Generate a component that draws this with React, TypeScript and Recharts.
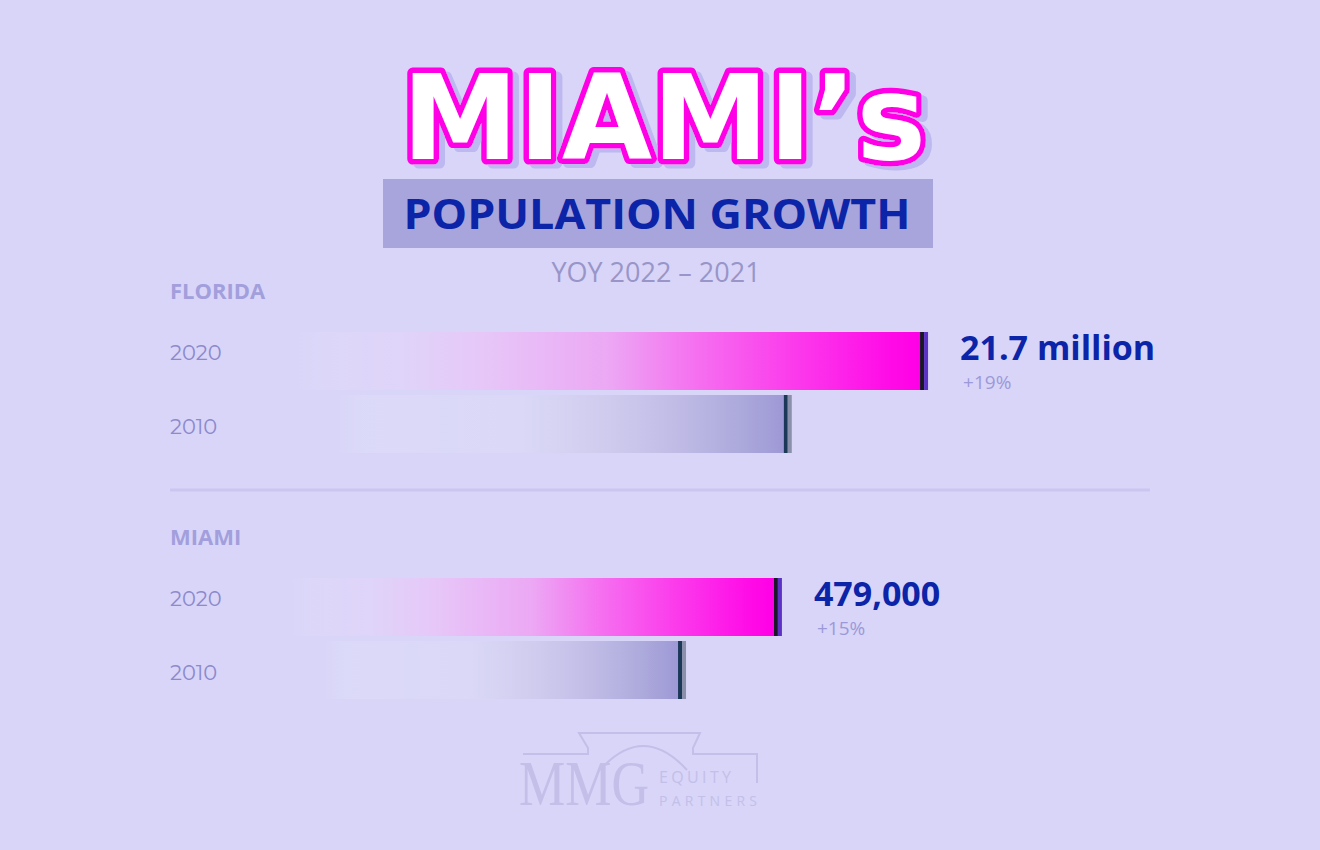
import React from 'react'
import { Bar, BarChart, LabelList, XAxis, YAxis } from 'recharts'

// Florida: population in millions
const floridaYears = ['2020', '2010']
const floridaValues = [21.7, 18.2]
const floridaLabels = ['21.7 million', '']
const floridaChange = ['+19%', '']

// Miami: population (people)
const miamiYears = ['2020', '2010']
const miamiValues = [479000, 417000]
const miamiLabels = ['479,000', '']
const miamiChange = ['+15%', '']

const floridaDomain: [number, number] = [4.8, 27.4]
const miamiDomain: [number, number] = [148000, 717000]

const BG = '#d8d5f8'
const NAVY = '#0b24a8'

type Row = { year: string; value: number; label: string; change: string }

const buildRows = (years: string[], values: number[], labels: string[], change: string[]): Row[] =>
  years.map((year, i) => ({ year, value: values[i], label: labels[i], change: change[i] }))

const floridaRows = buildRows(floridaYears, floridaValues, floridaLabels, floridaChange)
const miamiRows = buildRows(miamiYears, miamiValues, miamiLabels, miamiChange)

function CappedBar(props: any) {
  const { x, y, width, height, index, prefix } = props
  const cap = 4
  const body = Math.max(width - cap * 2, 0)
  const current = index === 0
  const id = `${prefix}-grad-${index}`
  return (
    <g>
      <defs>
        {current ? (
          <linearGradient id={id} x1="0" y1="0" x2="1" y2="0">
            <stop offset="0" stopColor="#ddd8fa" stopOpacity={0} />
            <stop offset="0.04" stopColor="#ddd8fa" stopOpacity={0} />
            <stop offset="0.08" stopColor="#ddd8fa" stopOpacity={0.8} />
            <stop offset="0.2" stopColor="#dfd4f9" />
            <stop offset="0.32" stopColor="#e6c8f8" />
            <stop offset="0.52" stopColor="#eca8f4" />
            <stop offset="0.65" stopColor="#f572f0" />
            <stop offset="0.79" stopColor="#fb40ec" />
            <stop offset="0.95" stopColor="#ff0ce7" />
            <stop offset="1" stopColor="#ff00e6" />
          </linearGradient>
        ) : (
          <linearGradient id={id} x1="0" y1="0" x2="1" y2="0">
            <stop offset="0" stopColor="#dcdaf8" stopOpacity={0} />
            <stop offset="0.13" stopColor="#dcdaf8" stopOpacity={0} />
            <stop offset="0.18" stopColor="#dcdaf8" stopOpacity={0.9} />
            <stop offset="0.49" stopColor="#dad8f6" />
            <stop offset="0.66" stopColor="#cfcbee" />
            <stop offset="0.82" stopColor="#bcb8e4" />
            <stop offset="0.91" stopColor="#adaadc" />
            <stop offset="1" stopColor="#9e99d6" />
          </linearGradient>
        )}
      </defs>
      <rect x={x} y={y} width={body} height={height} fill={`url(#${id})`} />
      <rect x={x + body} y={y} width={cap} height={height} fill={current ? '#1a1628' : '#1c3858'} />
      <rect x={x + body + cap} y={y} width={cap} height={height} fill={current ? '#5b32c4' : '#8a90aa'} />
    </g>
  )
}

function YearTick(props: any) {
  const { y, payload, index } = props
  const shift = index === 0 ? -8 : 3
  return (
    <text
      x={170}
      y={y + shift}
      dy="0.35em"
      fill="#8c89cc"
      fontFamily="Montserrat, 'Open Sans', sans-serif"
      fontSize={21}
    >
      {payload.value}
    </text>
  )
}

function ValueLabel(props: any, rows: Row[]) {
  const vb = props.viewBox ?? props
  const x = vb.x ?? props.x
  const y = vb.y ?? props.y
  const width = vb.width ?? props.width
  const row = rows[props.index]
  if (!row || !row.label) return null
  const left = x + width + 32
  return (
    <g>
      <text x={left} y={y + 28} fill={NAVY} fontFamily="'Open Sans', sans-serif" fontWeight={700} fontSize={34}>
        {row.label}
      </text>
      <text x={left + 3} y={y + 57} fill="#9c99d8" fontFamily="'Open Sans', sans-serif" fontSize={19}>
        {row.change}
      </text>
    </g>
  )
}

function Group({ rows, domain, top, prefix }: { rows: Row[]; domain: [number, number]; top: number; prefix: string }) {
  return (
    <div style={{ position: 'absolute', left: 0, top }}>
      <BarChart
        width={1320}
        height={180}
        data={rows}
        layout="vertical"
        margin={{ top: 29, right: 170, bottom: 25, left: 0 }}
      >
        <XAxis type="number" domain={domain} allowDataOverflow hide />
        <YAxis
          type="category"
          dataKey="year"
          width={270}
          axisLine={false}
          tickLine={false}
          tick={<YearTick />}
        />
        <Bar
          dataKey="value"
          barSize={58}
          isAnimationActive={false}
          shape={(p: any) => <CappedBar {...p} prefix={prefix} />}
        >
          <LabelList dataKey="label" content={(p: any) => ValueLabel(p, rows)} />
        </Bar>
      </BarChart>
    </div>
  )
}

function Decor() {
  const logo = '#c3bfe8'
  return (
    <svg width={1320} height={850} style={{ position: 'absolute', left: 0, top: 0 }}>
      <defs>
        <filter id="title-shadow" x="-10%" y="-20%" width="120%" height="140%">
          <feDropShadow dx={6} dy={4} stdDeviation={0} floodColor="#bdb8ef" floodOpacity={1} />
        </filter>
      </defs>
      {/* title */}
      <text
        x={664}
        y={159}
        textAnchor="middle"
        textLength={524}
        lengthAdjust="spacingAndGlyphs"
        fontFamily="'DejaVu Sans', sans-serif"
        fontWeight={700}
        fontSize={118}
        fill="#ffffff"
        stroke="#ff00e6"
        strokeWidth={11}
        strokeLinejoin="round"
        paintOrder="stroke"
        filter="url(#title-shadow)"
      >
        MIAMI’s
      </text>

      <rect x={383} y={179} width={550} height={69} fill="#a8a4dc" />
      <text
        x={657}
        y={229}
        textAnchor="middle"
        fill={NAVY}
        fontFamily="'Open Sans', sans-serif"
        fontWeight={700}
        fontSize={42}
        textLength={507}
        lengthAdjust="spacingAndGlyphs"
      >
        POPULATION GROWTH
      </text>
      <text x={656} y={282} textAnchor="middle" fill="#9995c8" fontFamily="'Open Sans', sans-serif" fontSize={27}>
        YOY 2022 – 2021
      </text>

      <text x={170} y={299} fill="#a29fdc" fontFamily="'Open Sans', sans-serif" fontWeight={700} fontSize={22}>
        FLORIDA
      </text>
      <line x1={170} x2={1150} y1={490} y2={490} stroke="#c9c6f0" strokeWidth={3} />
      <text x={170} y={545} fill="#a29fdc" fontFamily="'Open Sans', sans-serif" fontWeight={700} fontSize={22}>
        MIAMI
      </text>

      {/* logo */}
      <g fill="none" stroke={logo} strokeWidth={2}>
        <polyline points="523,754 588,754 588,748 579,733 700,733 693,748 693,754 757,754 757,783" />
        <path d="M600,770 Q643,722 687,770" />
      </g>
      <text
        transform="translate(519,805) scale(1,1.2)"
        fill={logo}
        fontFamily="'Liberation Serif', serif"
        fontSize={52}
      >
        MMG
      </text>
      <text x={659} y={783} fill={logo} fontFamily="'Open Sans', sans-serif" fontSize={16} textLength={72}>
        EQUITY
      </text>
      <text x={659} y={806} fill={logo} fontFamily="'Open Sans', sans-serif" fontSize={14} textLength={98}>
        PARTNERS
      </text>
    </svg>
  )
}

export default function App() {
  return (
    <div style={{ position: 'relative', width: 1320, height: 850, background: BG, overflow: 'hidden' }}>
      <style>{'body{margin:0}'}</style>
      <Decor />
      <Group rows={floridaRows} domain={floridaDomain} top={300} prefix="fl" />
      <Group rows={miamiRows} domain={miamiDomain} top={546} prefix="mi" />
    </div>
  )
}
